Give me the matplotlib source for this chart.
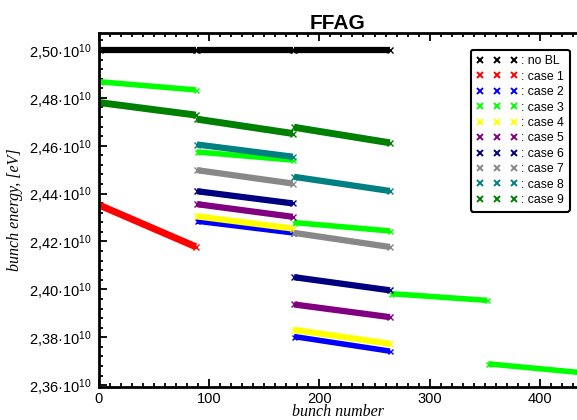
import matplotlib
matplotlib.use('Agg')
import matplotlib.pyplot as plt
from matplotlib.lines import Line2D
from matplotlib.ticker import MultipleLocator, FuncFormatter

plt.rcParams['font.family'] = ['Liberation Sans', 'DejaVu Sans']
plt.rcParams['mathtext.fontset'] = 'custom'
plt.rcParams['mathtext.rm'] = 'Liberation Sans'
plt.rcParams['mathtext.it'] = 'Liberation Sans:italic'

# bunch numbers where the segments start / end
seg_edges = [0, 88, 176, 264, 352, 440]

# energies in units of 1e10 eV: (segment index, start value, end value)
no_bl_seg = [0, 1, 2]
no_bl_start = [2.5000, 2.5000, 2.5000]
no_bl_end = [2.5000, 2.5000, 2.5000]

case1_seg = [0]
case1_start = [2.4351]
case1_end = [2.4178]

case2_seg = [1, 2]
case2_start = [2.4285, 2.3803]
case2_end = [2.4236, 2.3742]

case3_seg = [0, 1, 2, 3, 4]
case3_start = [2.4867, 2.4574, 2.4279, 2.3982, 2.3689]
case3_end = [2.4833, 2.4540, 2.4244, 2.3954, 2.3651]

case4_seg = [1, 2]
case4_start = [2.4305, 2.3831]
case4_end = [2.4254, 2.3773]

case5_seg = [1, 2]
case5_start = [2.4356, 2.3937]
case5_end = [2.4303, 2.3884]

case6_seg = [1, 2]
case6_start = [2.4410, 2.4051]
case6_end = [2.4359, 2.3996]

case7_seg = [1, 2]
case7_start = [2.4498, 2.4236]
case7_end = [2.4442, 2.4177]

case8_seg = [1, 2]
case8_start = [2.4605, 2.4470]
case8_end = [2.4554, 2.4411]

case9_seg = [0, 1, 2]
case9_start = [2.4780, 2.4711, 2.4677]
case9_end = [2.4728, 2.4651, 2.4612]

labels = ['no BL', 'case 1', 'case 2', 'case 3', 'case 4', 'case 5',
          'case 6', 'case 7', 'case 8', 'case 9']
colors = ['black', '#ff0000', '#0000ff', '#00ff00', '#ffff00', '#800080',
          '#000080', '#888888', '#008080', '#008000']
widths = [4.5, 5.0, 4.0, 4.0, 4.5, 4.5, 4.5, 4.5, 4.5, 5.0]

cases = [(no_bl_seg, no_bl_start, no_bl_end),
         (case1_seg, case1_start, case1_end),
         (case2_seg, case2_start, case2_end),
         (case3_seg, case3_start, case3_end),
         (case4_seg, case4_start, case4_end),
         (case5_seg, case5_start, case5_end),
         (case6_seg, case6_start, case6_end),
         (case7_seg, case7_start, case7_end),
         (case8_seg, case8_start, case8_end),
         (case9_seg, case9_start, case9_end)]

fig = plt.figure(figsize=(5.77, 4.2), dpi=100)
ax = fig.add_axes([0.171, 0.079, 0.829, 0.842])

for (segs, starts, ends), c, lw in zip(cases, colors, widths):
    for s, v0, v1 in zip(segs, starts, ends):
        xs = [seg_edges[s] + 1, seg_edges[s + 1]]
        ax.plot(xs, [v0, v1], color=c, lw=lw, solid_capstyle='butt', zorder=2)
        ax.plot(xs, [v0, v1], color=c, lw=0, marker='x', ms=lw * 0.9,
                mew=1.0, zorder=2)

ax.set_xlim(0, 433.5)
ax.set_ylim(2.3593, 2.5070)
ax.xaxis.set_major_locator(MultipleLocator(100))
ax.xaxis.set_minor_locator(MultipleLocator(10))
ax.yaxis.set_major_locator(MultipleLocator(0.02))
ax.yaxis.set_minor_locator(MultipleLocator(0.004))
ax.yaxis.set_major_formatter(FuncFormatter(
    lambda v, p: ('%.2f' % v).replace('.', ',') + '\u00b710$^{10}$'))
ax.tick_params(which='both', direction='in', top=True, right=False,
               labelsize=10.5, width=1.3)
ax.tick_params(which='major', length=6)
ax.tick_params(which='minor', length=3)
ax.tick_params(axis='y', pad=5)
for side in ['left', 'bottom', 'top']:
    ax.spines[side].set_linewidth(2)
ax.spines['right'].set_visible(False)

ax.set_xlabel('bunch number', family='Liberation Serif', style='italic',
              fontsize=11.5, labelpad=-1)
ax.set_ylabel('bunch energy, [eV]', family='Liberation Serif', style='italic',
              fontsize=11.5, labelpad=4)
ax.set_title('FFAG', fontsize=15, fontweight='bold', pad=3)

handles = [Line2D([], [], color=c, marker='x', ls='none', ms=4, mew=1.4)
           for c in colors]
leg = ax.legend(handles, [': ' + l for l in labels], loc='upper right',
                bbox_to_anchor=(0.985, 0.953), borderaxespad=0, numpoints=3,
                handlelength=3.4, handletextpad=0.3, labelspacing=0.28,
                fontsize=8.8, fancybox=True, framealpha=1, borderpad=0.45)
leg.get_frame().set_edgecolor('black')
leg.get_frame().set_linewidth(1.5)

fig.savefig('out.png', dpi=100)
